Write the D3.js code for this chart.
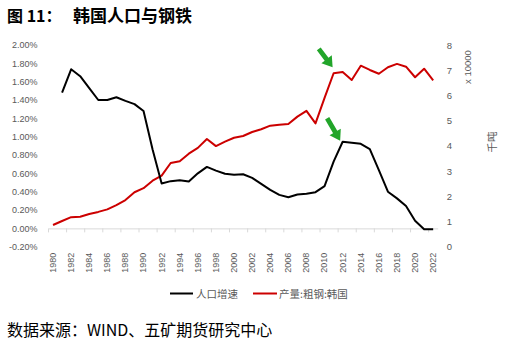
<!DOCTYPE html>
<html><head><meta charset="utf-8">
<script src="https://cdn.jsdelivr.net/npm/d3@7"></script>
<style>
html,body{margin:0;padding:0;background:#fff;}
svg{display:block;}
</style></head>
<body>
<svg id="c" width="510" height="344"></svg>
<script>
const years = d3.range(1980, 2023);
// 人口增速 (%), 1980 missing
const popGrowth = [null,1.48,1.735,1.66,1.53,1.40,1.40,1.43,1.39,1.355,1.28,0.86,0.49,0.515,0.525,0.51,0.60,0.67,0.63,0.595,0.585,0.59,0.55,0.485,0.42,0.365,0.34,0.37,0.378,0.395,0.46,0.727,0.945,0.935,0.922,0.865,0.636,0.40,0.327,0.243,0.083,-0.01,-0.01];
// 产量:粗钢:韩国 (x10000 千吨)
const steel = [0.86,1.02,1.17,1.19,1.30,1.38,1.48,1.65,1.85,2.16,2.32,2.62,2.82,3.32,3.39,3.69,3.92,4.27,3.99,4.17,4.32,4.39,4.55,4.66,4.80,4.84,4.87,5.16,5.39,4.89,5.90,6.88,6.93,6.61,7.18,7.01,6.86,7.12,7.25,7.14,6.72,7.06,6.60];
const leftTicks = [-0.2,0,0.2,0.4,0.6,0.8,1.0,1.2,1.4,1.6,1.8,2.0];
const rightTicks = [0,1,2,3,4,5,6,7,8];
const labelYears = years.filter(y => (y - 1980) % 2 === 0);
const seriesNames = ["人口增速", "产量:粗钢:韩国"];
const titleA = "图 11：", titleB = "韩国人口与钢铁";
const source = "数据来源：WIND、五矿期货研究中心";

const svg = d3.select("#c");
svg.append("rect").attr("width",510).attr("height",344).attr("fill","#fff");

const L = 48.5, R = 437.7, T = 45, B = 246.7;
const x = d3.scaleBand().domain(years).range([L, R]).padding(0);
const bw = x.bandwidth();
const cx = y => x(y) + bw/2;
const yL = d3.scaleLinear().domain([-0.2, 2.0]).range([B, T]);
const yR = d3.scaleLinear().domain([0, 8]).range([B, T]);

const tickFont = "'Liberation Sans', Arial, sans-serif";
const cjk = "'Noto Sans CJK SC', sans-serif";
const gray = "#595959";

// left axis
const gl = svg.append("g").attr("transform",`translate(${L},0)`)
  .call(d3.axisLeft(yL).tickValues(leftTicks).tickSize(0).tickPadding(11)
    .tickFormat(d => d.toFixed(2) + "%"));
gl.select(".domain").remove();
gl.selectAll("text").attr("font-family",tickFont).attr("font-size",9).attr("fill",gray);

// right axis
const gr = svg.append("g").attr("transform",`translate(${R},0)`)
  .call(d3.axisRight(yR).tickValues(rightTicks).tickSize(0).tickPadding(9));
gr.select(".domain").remove();
gr.selectAll("text").attr("font-family",tickFont).attr("font-size",9.5).attr("fill",gray);

// x axis line at 0 with ticks between categories
const y0 = yL(0);
const gx = svg.append("g").attr("transform",`translate(0,${y0})`)
  .call(d3.axisBottom(x).tickValues(labelYears).tickSize(4).tickSizeOuter(0).tickFormat(""));
gx.select(".domain").attr("stroke","#d9d9d9").attr("stroke-width",1);
gx.selectAll(".tick").attr("transform", d => `translate(${x(d)},0)`);
gx.selectAll(".tick line").attr("stroke","#d9d9d9");

// x labels (low position)
const gxl = svg.append("g").attr("transform",`translate(0,${B})`)
  .call(d3.axisBottom(x).tickValues(labelYears).tickSize(0).tickPadding(0));
gxl.select(".domain").remove();
gxl.selectAll("text").attr("font-family",tickFont).attr("font-size",9).attr("fill",gray)
  .attr("text-anchor","end").attr("dy","0.32em")
  .attr("transform","translate(0,6) rotate(-90)").attr("x",0).attr("y",0);

// right axis titles
svg.append("text").attr("transform","translate(471,67) rotate(-90)")
  .attr("text-anchor","middle").attr("font-family",tickFont).attr("font-size",9.5)
  .attr("fill",gray).text("x 10000");
svg.append("text").attr("transform","translate(496,142) rotate(-90)")
  .attr("text-anchor","middle").attr("font-family",cjk).attr("font-size",10.5)
  .attr("fill",gray).text("千吨");

// lines
const popLine = d3.line().defined(d => d.v != null).x(d => cx(d.y)).y(d => yL(d.v));
const steelLine = d3.line().x(d => cx(d.y)).y(d => yR(d.v));
svg.append("path").datum(years.map((y,i)=>({y,v:steel[i]})))
  .attr("d", steelLine).attr("fill","none").attr("stroke","#cc0000").attr("stroke-width",2).attr("stroke-linejoin","round");
svg.append("path").datum(years.map((y,i)=>({y,v:popGrowth[i]})))
  .attr("d", popLine).attr("fill","none").attr("stroke","#000").attr("stroke-width",2).attr("stroke-linejoin","round");

// green arrows
function arrow(tx, ty, angleDeg, len){
  const s = 2.4, h = 6.5, hl = 10;
  const pts = [[0,0],[-hl,-h],[-hl,-s],[-len,-s],[-len,s],[-hl,s],[-hl,h]];
  svg.append("path").attr("d", d3.line()(pts)+"Z")
    .attr("transform",`translate(${tx},${ty}) rotate(${angleDeg})`)
    .attr("fill","#22a52a");
}
const i11 = years.indexOf(2011), i12 = years.indexOf(2012);
arrow(cx(2011)-1, yR(steel[i11])-6, 53, 23);
arrow(cx(2012)-2.5, yL(popGrowth[i12])-1, 60, 26);

// legend
const lg = svg.append("g");
lg.append("line").attr("x1",170).attr("x2",193).attr("y1",293.5).attr("y2",293.5).attr("stroke","#000").attr("stroke-width",2);
lg.append("text").attr("x",196).attr("y",297.5).attr("font-family",cjk).attr("font-size",10.5).attr("fill",gray).text(seriesNames[0]);
lg.append("line").attr("x1",253).attr("x2",277).attr("y1",293.5).attr("y2",293.5).attr("stroke","#cc0000").attr("stroke-width",2);
lg.append("text").attr("x",279).attr("y",297.5).attr("font-family",cjk).attr("font-size",10.5).attr("fill",gray).text(seriesNames[1]);

// title
svg.append("text").attr("x",7).attr("y",21.5).attr("font-family",cjk).attr("font-weight","bold").attr("font-size",16).attr("fill","#000").text(titleA);
svg.append("text").attr("x",73).attr("y",21.5).attr("font-family",cjk).attr("font-weight","bold").attr("font-size",17).attr("fill","#000").text(titleB);

// source
svg.append("text").attr("x",7).attr("y",336).attr("font-family",cjk).attr("font-size",16).attr("fill","#000").text(source);
</script>
</body></html>
